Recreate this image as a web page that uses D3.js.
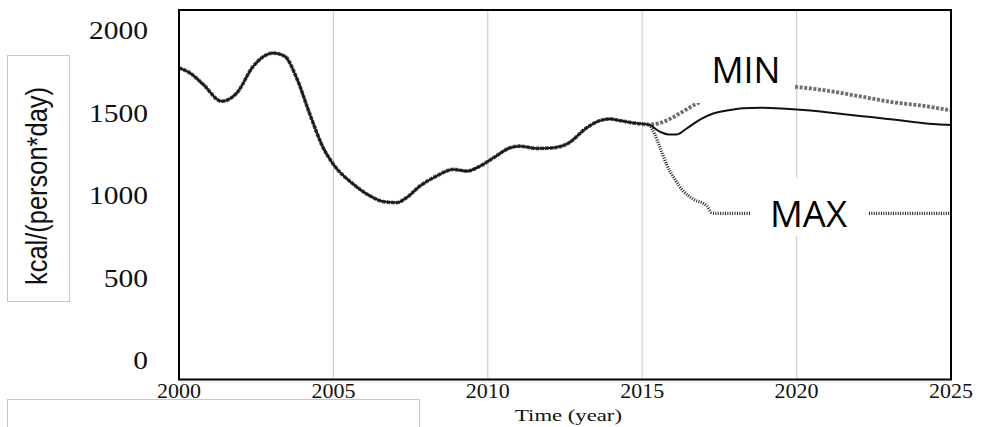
<!DOCTYPE html>
<html>
<head>
<meta charset="utf-8">
<script src="https://cdn.jsdelivr.net/npm/d3@7"></script>
<style>
  html, body { margin: 0; padding: 0; background: #fff; }
  svg { display: block; }
</style>
</head>
<body>
<svg id="chart" width="981" height="427"></svg>
<script>
// Daily food energy supply, 2000-2025: history plus MIN / MAX scenarios
const xTicks = [2000, 2005, 2010, 2015, 2020, 2025];
const yTicks = [0, 500, 1000, 1500, 2000];
const yTitle = "kcal/(person*day)";
const xTitle = "Time (year)";

// Shared history, 2000 - 2015
const histYears  = [2000.0, 2000.36, 2000.79, 2001.38, 2001.87, 2002.4, 2003.05, 2003.43, 2003.81, 2004.24,
                    2004.67, 2005.0, 2005.65, 2006.19, 2006.62, 2007.05, 2007.37, 2007.8, 2008.34, 2008.88,
                    2009.32, 2009.75, 2010.18, 2010.72, 2011.04, 2011.58, 2012.12, 2012.6, 2013.2, 2013.63,
                    2013.96, 2014.28, 2014.71, 2015.2];
const histValues = [1773, 1742, 1672, 1571, 1621, 1782, 1863, 1843, 1712, 1491,
                    1289, 1189, 1068, 997, 963, 957, 987, 1057, 1118, 1158,
                    1148, 1178, 1228, 1289, 1299, 1285, 1289, 1316, 1410, 1454,
                    1464, 1454, 1440, 1430];

// Base run after 2015
const baseYears  = [2015.58, 2015.85, 2016.12, 2016.44, 2016.87, 2017.3, 2017.74, 2018.27, 2018.82, 2019.5,
                    2020.33, 2020.97, 2021.62, 2022.48, 2023.13, 2023.78, 2024.54, 2025.0];
const baseValues = [1386, 1370, 1370, 1406, 1460, 1497, 1515, 1529, 1532, 1528,
                    1517, 1505, 1491, 1474, 1460, 1446, 1432, 1428];

// MIN scenario after 2015
const minYears  = [2015.58, 2016.0, 2016.33, 2016.7, 2017.3, 2018.0, 2018.8, 2019.5, 2020.1,
                   2020.97, 2022.05, 2023.13, 2024.21, 2025.0];
const minValues = [1440, 1474, 1510, 1551, 1600, 1640, 1662, 1666, 1656,
                   1636, 1601, 1565, 1541, 1515];

// MAX scenario after 2015
const maxYears  = [2015.41, 2015.58, 2015.79, 2016.06, 2016.33, 2016.66, 2017.09, 2017.25, 2017.4, 2025.0];
const maxValues = [1370, 1289, 1188, 1097, 1027, 977, 937, 896, 892, 892];

const svg = d3.select("#chart");

// plot frame
const frame = { left: 179, right: 951, top: 10, bottom: 379.5 };

const x = d3.scaleLinear().domain([2000, 2025]).range([frame.left, frame.right]);
const y = d3.scaleLinear().domain([0, 2000]).range([360.5, 30.5]);

const toPoints = (ys, vs) => ys.map((yr, i) => ({ year: yr, value: vs[i] }));
const hist = toPoints(histYears, histValues);
const base = hist.concat(toPoints(baseYears, baseValues));
const minS = hist.concat(toPoints(minYears, minValues));
const maxS = hist.concat(toPoints(maxYears, maxValues));

const line = d3.line()
  .x(d => x(d.year))
  .y(d => y(d.value))
  .curve(d3.curveMonotoneX);

// y-axis title box
svg.append("rect")
  .attr("x", 7.5).attr("y", 55.5).attr("width", 62).attr("height", 246)
  .attr("fill", "#fff").attr("stroke", "#c8c8c8").attr("stroke-width", 1);

svg.append("text")
  .attr("transform", "translate(46.5,186) scale(1.15,1) rotate(-90)")
  .attr("text-anchor", "middle")
  .attr("font-family", "'Liberation Sans', Arial, sans-serif")
  .attr("font-size", 25)
  .attr("fill", "#111")
  .attr("textLength", 198)
  .attr("lengthAdjust", "spacingAndGlyphs")
  .text(yTitle);

// lower-left box
svg.append("rect")
  .attr("x", 7.5).attr("y", 399.5).attr("width", 412).attr("height", 40)
  .attr("fill", "#fff").attr("stroke", "#c8c8c8").attr("stroke-width", 1);

// vertical gridlines
svg.append("g")
  .selectAll("line")
  .data(xTicks.slice(1, -1))
  .join("line")
  .attr("x1", d => x(d)).attr("x2", d => x(d))
  .attr("y1", frame.top).attr("y2", frame.bottom)
  .attr("stroke", "#cfcfcf").attr("stroke-width", 1.2);

// series
svg.append("path")
  .datum(minS)
  .attr("d", line)
  .attr("fill", "none")
  .attr("stroke", "#6f6f6f")
  .attr("stroke-width", 3.8)
  .attr("stroke-dasharray", "3,1.6");

svg.append("path")
  .datum(base)
  .attr("d", line)
  .attr("fill", "none")
  .attr("stroke", "#111")
  .attr("stroke-width", 2);

svg.append("path")
  .datum(maxS)
  .attr("d", line)
  .attr("fill", "none")
  .attr("stroke", "#222")
  .attr("stroke-width", 3.2)
  .attr("stroke-dasharray", "1,1.4");

// scenario labels on white boxes
svg.append("rect")
  .attr("x", 694).attr("y", 45).attr("width", 101).attr("height", 58)
  .attr("fill", "#fff");
svg.append("text")
  .attr("x", 711.5).attr("y", 83.3)
  .attr("font-family", "'Open Sans', 'Liberation Sans', sans-serif")
  .attr("font-size", 37)
  .attr("fill", "#000")
  .attr("textLength", 69)
  .attr("lengthAdjust", "spacingAndGlyphs")
  .text("MIN");

svg.append("rect")
  .attr("x", 750).attr("y", 178).attr("width", 118).attr("height", 58)
  .attr("fill", "#fff");
svg.append("text")
  .attr("x", 770).attr("y", 226.7)
  .attr("font-family", "'Open Sans', 'Liberation Sans', sans-serif")
  .attr("font-size", 37)
  .attr("fill", "#000")
  .attr("textLength", 77)
  .attr("lengthAdjust", "spacingAndGlyphs")
  .text("MAX");

// frame
svg.append("line")
  .attr("x1", frame.left).attr("x2", frame.right)
  .attr("y1", frame.bottom + 2.5).attr("y2", frame.bottom + 2.5)
  .attr("stroke", "#e2e2e2").attr("stroke-width", 1);
svg.append("rect")
  .attr("x", frame.left).attr("y", frame.top)
  .attr("width", frame.right - frame.left).attr("height", frame.bottom - frame.top)
  .attr("fill", "none").attr("stroke", "#000").attr("stroke-width", 2);

// y tick labels
svg.append("g")
  .selectAll("text")
  .data(yTicks)
  .join("text")
  .attr("x", 148)
  .attr("y", d => y(d))
  .attr("dy", "0.34em")
  .attr("text-anchor", "end")
  .attr("font-family", "'Liberation Serif', 'Times New Roman', serif")
  .attr("font-size", 25)
  .attr("fill", "#111")
  .text(d => d)
  .each(function () {
    const w = this.getComputedTextLength();
    d3.select(this).attr("textLength", w * 1.18).attr("lengthAdjust", "spacingAndGlyphs");
  });

// x tick labels
svg.append("g")
  .selectAll("text")
  .data(xTicks)
  .join("text")
  .attr("x", d => x(d))
  .attr("y", 398)
  .attr("text-anchor", "middle")
  .attr("font-family", "'Liberation Serif', 'Times New Roman', serif")
  .attr("font-size", 22)
  .attr("fill", "#111")
  .text(d => d);

// x-axis title
svg.append("text")
  .attr("x", 568.5).attr("y", 421)
  .attr("text-anchor", "middle")
  .attr("font-family", "'Liberation Serif', 'Times New Roman', serif")
  .attr("font-size", 17)
  .attr("fill", "#111")
  .attr("textLength", 107)
  .attr("lengthAdjust", "spacingAndGlyphs")
  .text(xTitle);
</script>
</body>
</html>
